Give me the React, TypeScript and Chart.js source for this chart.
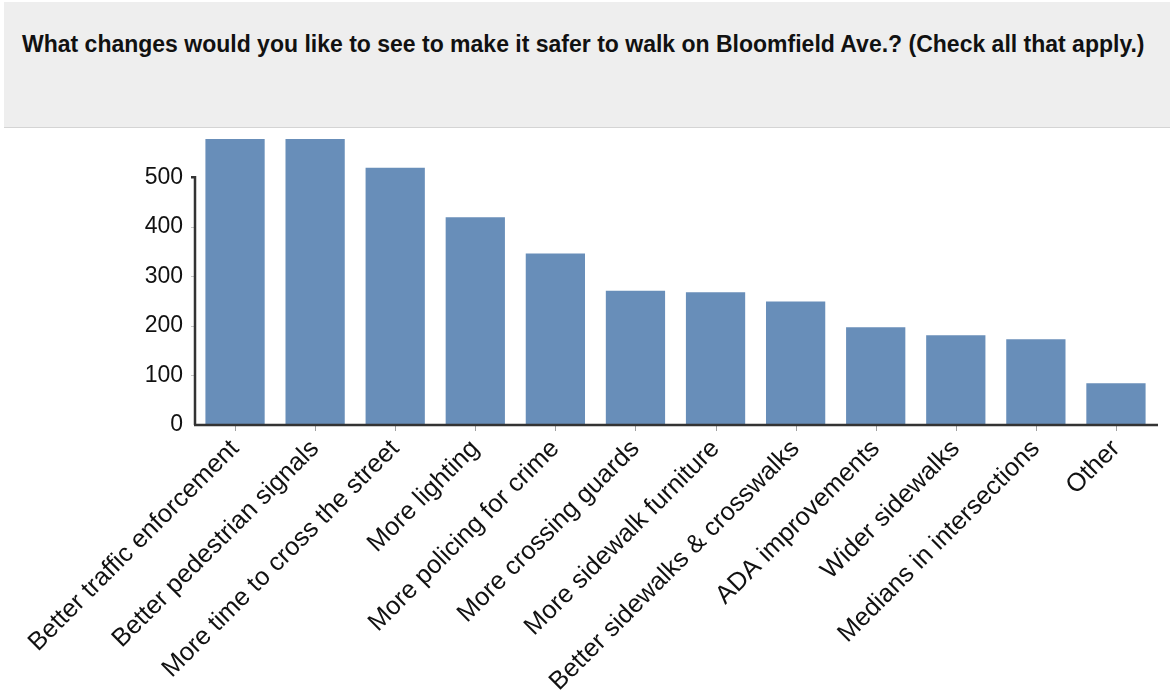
import React, { useEffect, useRef } from "react";
import { Chart, registerables } from "chart.js";

Chart.register(...registerables);

const TITLE = "What changes would you like to see to make it safer to walk on Bloomfield Ave.? (Check all that apply.)";

const categories = [
  "Better traffic enforcement",
  "Better pedestrian signals",
  "More time to cross the street",
  "More lighting",
  "More policing for crime",
  "More crossing guards",
  "More sidewalk furniture",
  "Better sidewalks & crosswalks",
  "ADA improvements",
  "Wider sidewalks",
  "Medians in intersections",
  "Other",
];

const responses = [592, 588, 519, 419, 346, 271, 268, 249, 197, 181, 173, 84];

const yTicks = [0, 100, 200, 300, 400, 500];
const yMax = 577;

const FONT = "'Liberation Sans', Arial, Helvetica, sans-serif";

const axesPlugin = {
  id: "customAxes",
  afterDatasetsDraw(chart: any) {
    const { ctx, chartArea, scales } = chart;
    const x = scales.x;
    const y = scales.y;
    const y0 = y.getPixelForValue(0);
    const yTop = y.getPixelForValue(yTicks[yTicks.length - 1]);
    ctx.save();
    // x ticks
    ctx.strokeStyle = "#a0a0a0";
    ctx.lineWidth = 1;
    for (let i = 0; i < categories.length; i++) {
      const px = Math.round(x.getPixelForValue(i)) + 0.5;
      ctx.beginPath();
      ctx.moveTo(px, y0);
      ctx.lineTo(px, y0 + 6);
      ctx.stroke();
    }
    // faint y ticks
    ctx.strokeStyle = "#c8c8c8";
    for (let i = 1; i < yTicks.length - 1; i++) {
      const py = Math.round(y.getPixelForValue(yTicks[i])) + 0.5;
      ctx.beginPath();
      ctx.moveTo(chartArea.left - 4, py);
      ctx.lineTo(chartArea.left, py);
      ctx.stroke();
    }
    ctx.strokeStyle = "#333333";
    ctx.lineWidth = 2.5;
    // y axis
    ctx.beginPath();
    ctx.moveTo(chartArea.left - 4, yTop);
    ctx.lineTo(chartArea.left, yTop);
    ctx.lineTo(chartArea.left, y0);
    ctx.stroke();
    // x axis
    ctx.beginPath();
    ctx.moveTo(chartArea.left - 1, y0);
    ctx.lineTo(chartArea.right + 2, y0);
    ctx.stroke();
    ctx.restore();
  },
};

export default function App() {
  const ref = useRef<HTMLCanvasElement | null>(null);

  useEffect(() => {
    if (!ref.current) return;
    const chart = new Chart(ref.current, {
      type: "bar",
      data: {
        labels: categories,
        datasets: [
          {
            data: responses,
            backgroundColor: "#688eb9",
            borderWidth: 0,
            categoryPercentage: 1,
            barPercentage: 0.74,
            clip: 0,
          } as any,
        ],
      },
      options: {
        animation: false,
        responsive: false,
        devicePixelRatio: 1,
        layout: { padding: { top: 9, right: 14, left: 0, bottom: 0 } },
        plugins: {
          legend: { display: false },
          tooltip: { enabled: false },
          title: { display: false },
        },
        scales: {
          x: {
            grid: { display: false, drawTicks: false },
            border: { display: false },
            ticks: {
              autoSkip: false,
              maxRotation: 45,
              minRotation: 45,
              padding: 9,
              color: "#111111",
              font: { family: FONT, size: 25.5 },
            },
            afterFit(scale: any) {
              scale.height = 266;
              scale.paddingLeft = 0;
              scale.paddingRight = 0;
              scale.paddingTop = 0;
              scale.paddingBottom = 0;
            },
          },
          y: {
            min: 0,
            max: yMax,
            grid: { display: false, drawTicks: false },
            border: { display: false },
            afterBuildTicks(scale: any) {
              scale.ticks = yTicks.map((v) => ({ value: v }));
            },
            ticks: {
              padding: 12,
              color: "#111111",
              font: { family: FONT, size: 23 },
            },
            afterFit(scale: any) {
              scale.width = 195;
              scale.paddingTop = 0;
              scale.paddingBottom = 0;
              scale.paddingLeft = 0;
              scale.paddingRight = 0;
            },
          },
        },
      },
      plugins: [axesPlugin],
    });
    return () => chart.destroy();
  }, []);

  return (
    <div
      style={{
        position: "absolute",
        left: 0,
        top: 0,
        width: 1170,
        height: 691,
        background: "#ffffff",
        overflow: "hidden",
        fontFamily: FONT,
      }}
    >
      <div
        style={{
          position: "absolute",
          left: 4,
          top: 2,
          width: 1166,
          height: 125,
          background: "#eeeeee",
          borderBottom: "1px solid #d4d4d4",
        }}
      >
        <div
          style={{
            position: "absolute",
            left: 18,
            top: 29,
            fontSize: 23,
            fontWeight: "bold",
            color: "#111111",
            whiteSpace: "nowrap",
            lineHeight: "26px",
          }}
        >
          {TITLE}
        </div>
      </div>
      <canvas
        ref={ref}
        width={1170}
        height={561}
        style={{ position: "absolute", left: 0, top: 130, width: 1170, height: 561 }}
      />
    </div>
  );
}
